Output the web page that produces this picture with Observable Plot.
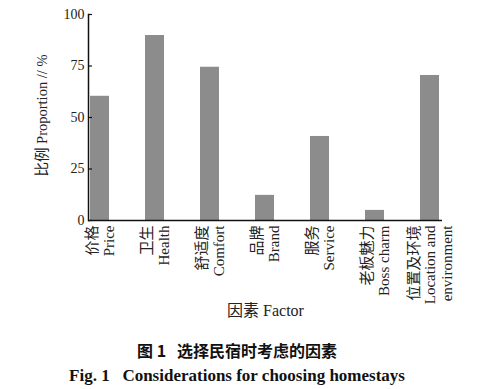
<!DOCTYPE html>
<html>
<head>
<meta charset="utf-8">
<script src="https://cdn.jsdelivr.net/npm/d3@7"></script>
<script src="https://cdn.jsdelivr.net/npm/@observablehq/plot@0.6"></script>
<style>
  html, body { margin: 0; padding: 0; background: #fff; }
  body { width: 500px; height: 389px; overflow: hidden; }
  #chart svg { display: block; }
  .cap { width: 474px; text-align: center; font-weight: bold; color: #111; white-space: pre; }
  #cap1 { font-family: "Noto Sans CJK SC", sans-serif; font-size: 16px; line-height: 20px; margin-top: 10px; }
  #cap2 { font-family: "Liberation Serif", "Times New Roman", serif; font-size: 17px; line-height: 20px; margin-top: 6px; }
</style>
</head>
<body>
<div id="chart"></div>
<div id="cap1" class="cap">图 1   选择民宿时考虑的因素</div>
<div id="cap2" class="cap">Fig. 1   Considerations for choosing homestays</div>
<script>
const categories = ["价格\nPrice", "卫生\nHealth", "舒适度\nComfort", "品牌\nBrand", "服务\nService", "老板魅力\nBoss charm", "位置及环境\nLocation and\nenvironment"];
const values = [60.3, 89.8, 74.4, 12.2, 40.8, 4.9, 70.4];
const yTicks = [0, 25, 50, 75, 100];
const yLabel = "比例 Proportion // %";
const xLabel = "因素 Factor";

const data = categories.map((c, i) => ({cat: c, value: values[i]}));
const font = "'Liberation Serif', 'Times New Roman', 'Noto Sans CJK SC', serif";

const chart = Plot.plot({
  width: 500,
  height: 330,
  marginLeft: 88,
  marginRight: 58,
  marginTop: 14,
  marginBottom: 110,
  style: {fontFamily: font, fontSize: "14px", color: "#222", background: "#fff"},
  x: {domain: categories, paddingInner: 0.65, paddingOuter: 0.03, axis: null},
  y: {domain: [0, 100], axis: null},
  marks: [
    Plot.barY(data, {x: "cat", y: "value", fill: "#8c8c8c"}),
    Plot.axisY({ticks: yTicks, tickSize: 0, tickPadding: 4, label: null, fontSize: 14, fontFamily: font, fill: "#222"}),
    Plot.tickY(yTicks, {y: d => d, stroke: "#111", strokeWidth: 1.2, insetRight: 350}),
    Plot.ruleY([0], {stroke: "#111", strokeWidth: 1.5}),
    Plot.frame({anchor: "left", stroke: "#111", strokeWidth: 1.5}),
    Plot.text(data, {x: "cat", y: () => 0, text: "cat", rotate: -90, textAnchor: "end", lineAnchor: "middle", dy: 5, lineHeight: 1.1, fontSize: 15, fill: "#222", fontFamily: font}),
    Plot.text([yLabel], {frameAnchor: "left", textAnchor: "middle", dx: -46, dy: -2, rotate: -90, fontSize: 14.5, fill: "#222", fontFamily: font}),
    Plot.text([xLabel], {frameAnchor: "bottom", dy: 95, fontSize: 16, fill: "#222", fontFamily: font})
  ]
});
document.getElementById("chart").appendChild(chart);
</script>
</body>
</html>
